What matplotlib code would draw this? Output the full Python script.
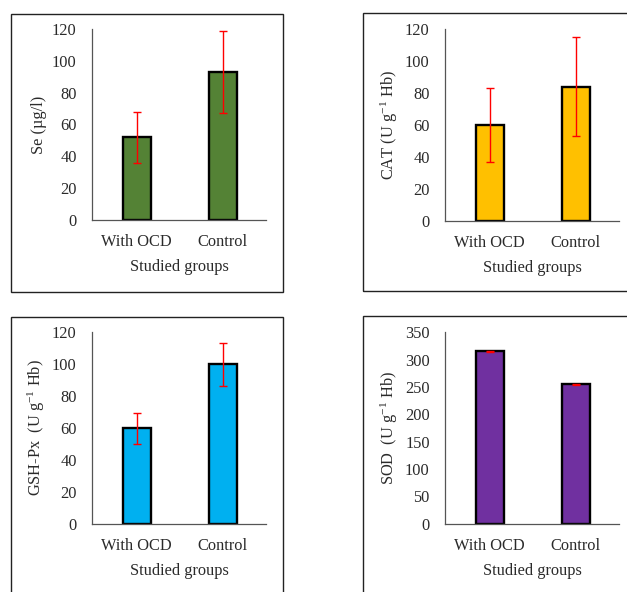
import matplotlib
matplotlib.use('Agg')
import matplotlib.pyplot as plt
from matplotlib.patches import Rectangle

plt.rcParams['font.family'] = ['Liberation Serif', 'DejaVu Serif']
plt.rcParams['mathtext.fontset'] = 'custom'
plt.rcParams['mathtext.rm'] = 'Liberation Serif'
plt.rcParams['mathtext.it'] = 'Liberation Serif:italic'
plt.rcParams['mathtext.default'] = 'regular'

groups = ['With OCD', 'Control']
xlabel = 'Studied groups'

se_mean = [52, 93]
se_err = [16, 26]
cat_mean = [60, 84]
cat_err = [23.5, 31]
gsh_mean = [59.5, 99.5]
gsh_err = [9.5, 13.5]
sod_mean = [315, 255]
sod_err = [1, 1]

panels = [
    # values, errors, colour, ylabel, ymax, ystep, axes rect, frame rect (pixels)
    (se_mean, se_err, '#548235', 'Se (µg/l)', 120, 20,
     [0.1467, 0.6284, 0.2775, 0.3226], (11, 14, 283, 292)),
    (cat_mean, cat_err, '#FFC000', r'CAT (U g$^{-1}$ Hb)', 120, 20,
     [0.7097, 0.6272, 0.2775, 0.3233], (363, 13, 640, 291)),
    (gsh_mean, gsh_err, '#00B0F0', r'GSH-Px  (U g$^{-1}$ Hb)', 120, 20,
     [0.1467, 0.1154, 0.2775, 0.3243], (11, 317, 283, 610)),
    (sod_mean, sod_err, '#7030A0', r'SOD  (U g$^{-1}$ Hb)', 350, 50,
     [0.7097, 0.1154, 0.2775, 0.3233], (363, 316, 640, 610)),
]

W, H = 627, 592
fig = plt.figure(figsize=(W / 100, H / 100), dpi=100)

for vals, errs, col, ylab, ymax, ystep, rect, frame in panels:
    x0, y0, x1, y1 = frame
    fig.patches.append(Rectangle((x0 / W, 1 - y1 / H), (x1 - x0) / W, (y1 - y0) / H,
                                 transform=fig.transFigure, fill=False,
                                 edgecolor='#222222', linewidth=1.0))
    ax = fig.add_axes(rect)
    pos = range(len(groups))
    ax.bar(pos, vals, width=0.33, color=col, edgecolor='black', linewidth=1.7, zorder=2)
    ax.errorbar(pos, vals, yerr=errs, fmt='none', ecolor='red', elinewidth=1,
                capsize=3, capthick=1, zorder=3)
    ax.set_xlim(-0.52, 1.5)
    ax.set_ylim(0, ymax)
    ax.set_yticks(range(0, ymax + 1, ystep))
    ax.set_xticks(list(pos))
    ax.set_xticklabels(groups)
    for s in ['top', 'right']:
        ax.spines[s].set_visible(False)
    for s in ['left', 'bottom']:
        ax.spines[s].set_color('#555555')
        ax.spines[s].set_linewidth(0.9)
    ax.tick_params(axis='y', length=0, pad=11, labelsize=11.8, labelcolor='#2a2a2a')
    ax.tick_params(axis='x', length=0, pad=10, labelsize=11.8, labelcolor='#2a2a2a')
    ax.set_xlabel(xlabel, fontsize=11.8, color='#2a2a2a', labelpad=6.5)
    ax.set_ylabel(ylab, fontsize=11.8, color='#2a2a2a')
    ax.yaxis.set_label_coords(-0.26, 0.5)
    ax.patch.set_alpha(0)

fig.savefig('out.png', dpi=100)
